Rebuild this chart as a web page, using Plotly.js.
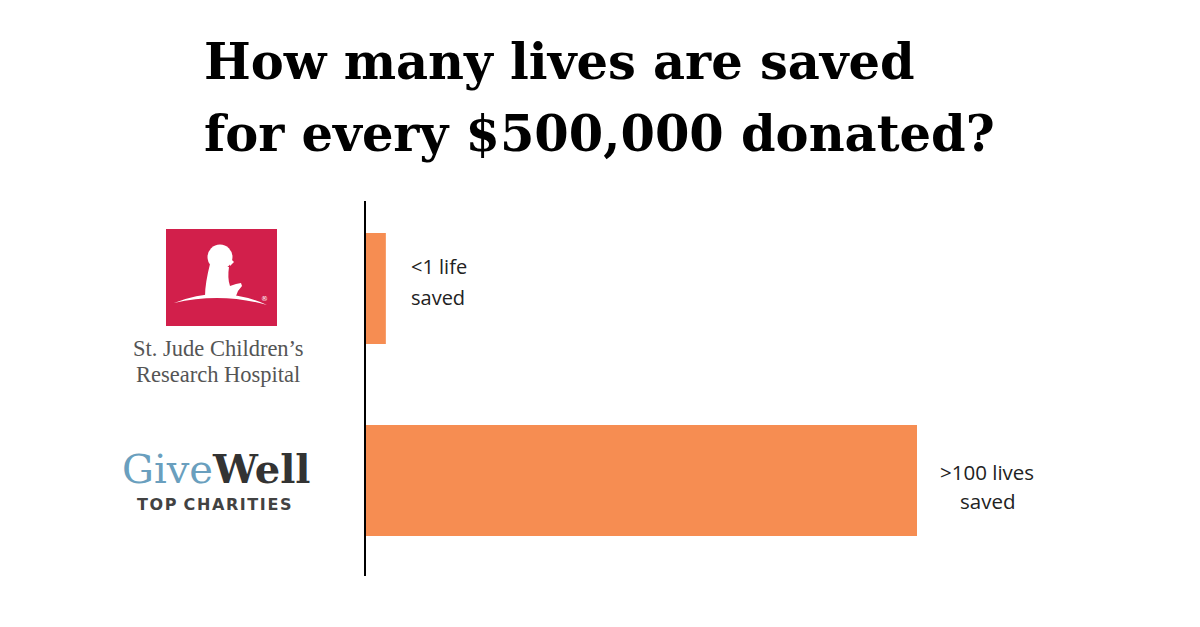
<!DOCTYPE html>
<html>
<head>
<meta charset="utf-8">
<script src="https://cdn.plot.ly/plotly-3.0.1.min.js"></script>
<style>html,body{margin:0;padding:0;background:#fff;}#chart{width:1200px;height:627px;}</style>
</head>
<body>
<div id="chart"></div>
<script>
// ---- data ----
const categories = ["St. Jude Children's Research Hospital", "GiveWell Top Charities"];
const livesSaved = [3.6, 100];
const valueLabelLines = [["<1 life", "saved"], [">100 lives", "saved"]];
const titleLines = ["How many lives are saved", "for every $500,000 donated?"];
const stJudeLines = ["St. Jude Children’s", "Research Hospital"];

// ---- layout geometry (pixels) ----
const W = 1200, H = 627;
const M = {l: 366, r: 100, t: 201, b: 51};
const PW = W - M.l - M.r, PH = H - M.t - M.b;
const X = px => (px - M.l) / PW;
const Y = py => (H - M.b - py) / PH;
const P = (px, py) => X(px).toFixed(5) + ',' + Y(py).toFixed(5);
const path = pts => 'M ' + pts.map(p => P(p[0], p[1])).join(' L ') + ' Z';

const barColor = '#F68D52';

const shapes = [
  // St. Jude red square
  {type: 'rect', xref: 'paper', yref: 'paper', x0: X(166), x1: X(277), y0: Y(326), y1: Y(229),
   fillcolor: '#D21F4B', line: {width: 0}, layer: 'above'},
  // head
  {type: 'circle', xref: 'paper', yref: 'paper', x0: X(207.5), x1: X(232.5), y0: Y(269.5), y1: Y(244.5),
   fillcolor: '#FFFFFF', line: {width: 0}, layer: 'above'},
  // nose
  {type: 'path', xref: 'paper', yref: 'paper', layer: 'above', fillcolor: '#FFFFFF', line: {width: 0},
   path: path([[229, 257], [234, 262], [230, 266]])},
  // body
  {type: 'path', xref: 'paper', yref: 'paper', layer: 'above', fillcolor: '#FFFFFF', line: {width: 0},
   path: 'M ' + P(210, 264) + ' C ' + P(207, 276) + ' ' + P(205, 287) + ' ' + P(205, 297) +
         ' L ' + P(236, 296) + ' L ' + P(238, 291) + ' L ' + P(242, 286) + ' L ' + P(241, 283) +
         ' L ' + P(236, 284) + ' L ' + P(230, 286) +
         ' C ' + P(228, 280) + ' ' + P(228, 274) + ' ' + P(229, 267) + ' Z'},
  // ground arc
  {type: 'path', xref: 'paper', yref: 'paper', layer: 'above', fillcolor: '#FFFFFF', line: {width: 0},
   path: 'M ' + P(174, 303) + ' Q ' + P(221, 284) + ' ' + P(267, 305) +
         ' Q ' + P(221, 292) + ' ' + P(174, 303) + ' Z'}
];

const annotations = [
  // title (two lines, spaced like the reference)
  {xref: 'paper', yref: 'paper', x: X(202), y: Y(62), xanchor: 'left', yanchor: 'middle',
   text: '<b>' + titleLines[0] + '</b>', showarrow: false,
   font: {family: 'DejaVu Serif', size: 49.5, color: '#000000'}},
  {xref: 'paper', yref: 'paper', x: X(202), y: Y(134), xanchor: 'left', yanchor: 'middle',
   text: '<b>' + titleLines[1] + '</b>', showarrow: false,
   font: {family: 'DejaVu Serif', size: 49.5, color: '#000000'}},
  // St. Jude logo
  {xref: 'paper', yref: 'paper', x: X(259), y: Y(293), text: '®', showarrow: false,
   font: {family: 'DejaVu Sans', size: 7, color: '#FFFFFF'}},
  {xref: 'paper', yref: 'paper', x: X(218), y: Y(348.5), xanchor: 'center', yanchor: 'middle',
   text: stJudeLines[0], showarrow: false,
   font: {family: 'Liberation Serif', size: 22.5, color: '#555555'}},
  {xref: 'paper', yref: 'paper', x: X(218), y: Y(374.5), xanchor: 'center', yanchor: 'middle',
   text: stJudeLines[1], showarrow: false,
   font: {family: 'Liberation Serif', size: 22.5, color: '#555555'}},
  // GiveWell logo
  {xref: 'paper', yref: 'paper', x: X(216), y: Y(468), xanchor: 'center', yanchor: 'middle',
   text: '<span style="color:#6A9FBE">Give</span><b>Well</b>', showarrow: false,
   font: {family: 'DejaVu Serif', size: 40, color: '#333333'}},
  {xref: 'paper', yref: 'paper', x: X(214), y: Y(504), xanchor: 'center', yanchor: 'middle',
   text: '<b>T\u200AO\u200AP\u200A C\u200AH\u200AA\u200AR\u200AI\u200AT\u200AI\u200AE\u200AS</b>', showarrow: false,
   font: {family: 'DejaVu Sans', size: 16, color: '#424242'}}
];

// value labels, one annotation per line
const labelStyle = [
  {xanchor: 'left', xshift: 23, yshifts: [22.5, -8.5], size: 20},
  {xanchor: 'center', xshift: 70, yshifts: [9, -20], size: 20.5}
];
valueLabelLines.forEach((lines, i) => {
  lines.forEach((line, j) => {
    annotations.push({x: livesSaved[i], y: categories[i], xref: 'x', yref: 'y', text: line,
      showarrow: false, xanchor: labelStyle[i].xanchor, yanchor: 'middle',
      xshift: labelStyle[i].xshift, yshift: labelStyle[i].yshifts[j],
      font: {family: 'Open Sans', size: labelStyle[i].size, color: '#222222'}});
  });
});

const trace = {
  type: 'bar', orientation: 'h', x: livesSaved, y: categories,
  width: 0.578, marker: {color: barColor, line: {width: 0}},
  hoverinfo: 'none'
};

const layout = {
  width: W, height: H,
  margin: M,
  paper_bgcolor: '#FFFFFF', plot_bgcolor: '#FFFFFF',
  showlegend: false,
  xaxis: {range: [0, PW / 5.51], showgrid: false, zeroline: false, showline: false,
          showticklabels: false, ticks: '', fixedrange: true},
  yaxis: {type: 'category', categoryorder: 'array', categoryarray: categories,
          range: [1.497, -0.456], showgrid: false, zeroline: false,
          showline: true, linecolor: '#000000', linewidth: 2, showticklabels: false, ticks: '', fixedrange: true},
  shapes: shapes,
  annotations: annotations
};

Plotly.newPlot('chart', [trace], layout, {displayModeBar: false, staticPlot: true});
</script>
</body>
</html>
